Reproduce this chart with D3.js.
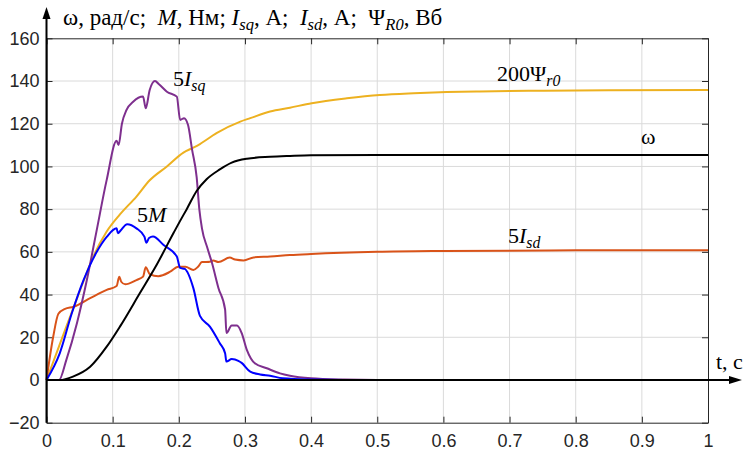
<!DOCTYPE html>
<html>
<head>
<meta charset="utf-8">
<script src="https://cdn.jsdelivr.net/npm/d3@7"></script>
<style>
  body { margin: 0; background: #fff; }
</style>
</head>
<body>
<svg id="chart" width="745" height="452"></svg>
<script>
// series: [t, value]
var omega = [[0,0],[0.02,0],[0.04,1.6],[0.066,6.2],[0.091,15.6],[0.111,25],[0.141,40.6],[0.167,54.2],
  [0.192,68.8],[0.202,74.5],[0.212,80],[0.227,88.5],[0.242,94],[0.262,98.6],[0.28,101.8],[0.303,103.6],
  [0.338,104.5],[0.368,104.9],[0.4,105.2],[0.5,105.3],[1,105.3]];

var psi = [[0,0],[0.015,12.5],[0.03,25],[0.051,42.2],[0.071,58],[0.091,69.5],[0.111,77.5],[0.136,85.9],
  [0.156,93.5],[0.182,100],[0.207,106.5],[0.222,108.8],[0.232,110.5],[0.257,115.6],[0.293,121],[0.308,122.6],
  [0.338,125.7],[0.368,127.5],[0.401,129.6],[0.454,131.9],[0.504,133.5],[0.555,134.3],[0.605,134.8],
  [0.655,135.1],[0.731,135.4],[0.85,135.7],[1,135.8]];

var isd = [[0,0],[0.01,20],[0.018,31],[0.028,33.3],[0.041,34.3],[0.066,38.3],[0.091,42.2],[0.106,44],
  [0.110,48.4],[0.113,46],[0.119,44.8],[0.136,46.8],[0.146,48.4],[0.150,52.8],[0.156,49.6],[0.169,48.6],
  [0.187,50.7],[0.199,53],[0.21,53],[0.222,51.5],[0.229,53],[0.235,55.2],[0.247,55.4],[0.252,56],[0.26,55.2],
  [0.277,57.3],[0.285,56.4],[0.298,56],[0.313,57.4],[0.338,57.8],[0.368,58.5],[0.4,59],[0.5,60],[0.6,60.4],
  [0.8,60.7],[1,60.8]];

var torque = [[0,0],[0.02,12.5],[0.038,31],[0.056,46.8],[0.076,60],[0.091,67],[0.106,71],[0.108,68.7],
  [0.112,70],[0.122,72.9],[0.136,71],[0.148,67.1],[0.151,64.3],[0.155,66.5],[0.161,67.2],[0.177,63.2],
  [0.197,57.8],[0.202,52.5],[0.209,52],[0.222,43],[0.232,30],[0.247,25],[0.262,17.2],[0.27,12.5],[0.272,8.6],
  [0.28,9.8],[0.29,9],[0.295,8],[0.308,3.9],[0.323,2.6],[0.338,2],[0.357,0.8],[0.4,0.2],[0.45,0],[1,0]];

var isq = [[0,0],[0.019,0],[0.03,9.4],[0.046,26.6],[0.061,46.8],[0.076,70.3],[0.091,93.7],[0.106,112],
  [0.109,110],[0.114,120],[0.121,126.5],[0.131,130.3],[0.146,132.7],[0.150,127.2],[0.156,135.8],[0.164,140],
  [0.17,138.5],[0.182,135],[0.197,132.7],[0.202,121.8],[0.208,122.6],[0.214,119.4],[0.22,108],[0.227,95],
  [0.231,80],[0.235,71],[0.243,62],[0.25,55],[0.26,43],[0.27,33],[0.272,22],[0.28,25.5],[0.288,25.5],
  [0.295,22],[0.303,14],[0.315,7.8],[0.333,5.5],[0.353,3.1],[0.368,2],[0.4,0.8],[0.45,0.2],[0.5,0],[1,0]];

var xTicks = [0, 0.1, 0.2, 0.3, 0.4, 0.5, 0.6, 0.7, 0.8, 0.9, 1];
var yTicks = [-20, 0, 20, 40, 60, 80, 100, 120, 140, 160];

(function () {
  var svg = d3.select('#chart');
  var pl = 46.5, pr = 708, pt = 38.3, pb = 422.7;

  var x = d3.scaleLinear().domain([0, 1]).range([pl, pr]);
  var y = d3.scaleLinear().domain([-20, 160]).range([pb, pt]);

  svg.append('rect').attr('width', 745).attr('height', 452).attr('fill', '#fff');

  // grid
  var grid = svg.append('g').attr('stroke', '#dadada').attr('stroke-width', 1);
  grid.selectAll('line.gx').data(xTicks.slice(1, -1)).enter().append('line')
    .attr('x1', function (d) { return x(d); }).attr('x2', function (d) { return x(d); })
    .attr('y1', pt).attr('y2', pb);
  grid.selectAll('line.gy').data(yTicks.slice(1, -1)).enter().append('line')
    .attr('y1', function (d) { return y(d); }).attr('y2', function (d) { return y(d); })
    .attr('x1', pl).attr('x2', pr);

  // axes with inward ticks
  var font = '"Liberation Sans", Arial, sans-serif';
  var xAxisB = d3.axisBottom(x).tickValues(xTicks).tickSizeInner(-6).tickSizeOuter(0)
    .tickFormat(function (d) { return d === 0 || d === 1 ? d3.format('d')(d) : d3.format('.1f')(d); });
  var gxb = svg.append('g').attr('transform', 'translate(0,' + pb + ')').call(xAxisB);
  gxb.selectAll('text').attr('font-family', font).attr('font-size', 18).attr('dy', '1.2em').attr('fill', '#262626');

  svg.append('g').attr('transform', 'translate(0,' + pt + ')')
    .call(d3.axisTop(x).tickValues(xTicks).tickSizeInner(-6).tickSizeOuter(0).tickFormat(''));

  var gyl = svg.append('g').attr('transform', 'translate(' + pl + ',0)')
    .call(d3.axisLeft(y).tickValues(yTicks).tickSizeInner(-6).tickSizeOuter(0));
  gyl.selectAll('text').attr('font-family', font).attr('font-size', 18).attr('x', -7).attr('fill', '#262626');

  svg.append('g').attr('transform', 'translate(' + pr + ',0)')
    .call(d3.axisRight(y).tickValues(yTicks).tickSizeInner(-6).tickSizeOuter(0).tickFormat(''));

  svg.selectAll('.domain').attr('stroke', '#262626');
  svg.selectAll('.tick line').attr('stroke', '#262626');

  // curves
  var line = d3.line().x(function (d) { return x(d[0]); }).y(function (d) { return y(d[1]); })
    .curve(d3.curveMonotoneX);
  var series = [
    { data: psi, color: '#EDB120' },
    { data: isd, color: '#D95319' },
    { data: isq, color: '#7E2F8E' },
    { data: torque, color: '#0000FF' },
    { data: omega, color: '#000000' }
  ];
  svg.append('g').selectAll('path').data(series).enter().append('path')
    .attr('d', function (d) { return line(d.data); })
    .attr('fill', 'none').attr('stroke', function (d) { return d.color; })
    .attr('stroke-width', 2).attr('stroke-linejoin', 'round');

  // arrow axes
  svg.append('line').attr('x1', pl).attr('x2', pl).attr('y1', pb).attr('y2', 16)
    .attr('stroke', '#000').attr('stroke-width', 2);
  svg.append('path').attr('d', 'M' + pl + ',7L' + (pl - 4) + ',19L' + (pl + 4) + ',19Z').attr('fill', '#000');
  svg.append('line').attr('x1', pl).attr('x2', 732).attr('y1', y(0)).attr('y2', y(0))
    .attr('stroke', '#000').attr('stroke-width', 2);
  svg.append('path').attr('d', 'M742,' + y(0) + 'L729,' + (y(0) - 4) + 'L729,' + (y(0) + 4) + 'Z').attr('fill', '#000');

  // labels
  var serif = '"Liberation Serif", "Times New Roman", serif';
  function label(px, py, parts, size) {
    var fs = size || 22;
    var t = svg.append('text').attr('x', px).attr('y', py).attr('font-family', serif)
      .attr('font-size', fs).attr('fill', '#000').attr('xml:space', 'preserve');
    parts.forEach(function (p) {
      var s = t.append('tspan').text(p.s);
      if (p.i) s.attr('font-style', 'italic');
      if (p.sub) s.attr('font-size', fs * 0.72).attr('dy', 5);
      if (p.up) s.attr('dy', -5);
    });
    return t;
  }

  label(63, 25, [{ s: 'ω, рад/с;  ' }, { s: 'M', i: 1 }, { s: ', Нм; ' }, { s: 'I', i: 1 },
    { s: 'sq', i: 1, sub: 1 }, { s: ', А;  ', up: 1 }, { s: 'I', i: 1 }, { s: 'sd', i: 1, sub: 1 },
    { s: ', А;  Ψ', up: 1 }, { s: 'R0', i: 1, sub: 1 }, { s: ', Вб', up: 1 }], 23);

  label(173, 86, [{ s: '5' }, { s: 'I', i: 1 }, { s: 'sq', i: 1, sub: 1 }]);
  label(137, 222, [{ s: '5' }, { s: 'M', i: 1 }]);
  label(497, 81, [{ s: '200Ψ' }, { s: 'r0', i: 1, sub: 1 }]);
  label(641, 144, [{ s: 'ω' }]);
  label(508, 243, [{ s: '5' }, { s: 'I', i: 1 }, { s: 'sd', i: 1, sub: 1 }]);
  label(716, 369, [{ s: 't, с' }]);
})();
</script>
</body>
</html>
